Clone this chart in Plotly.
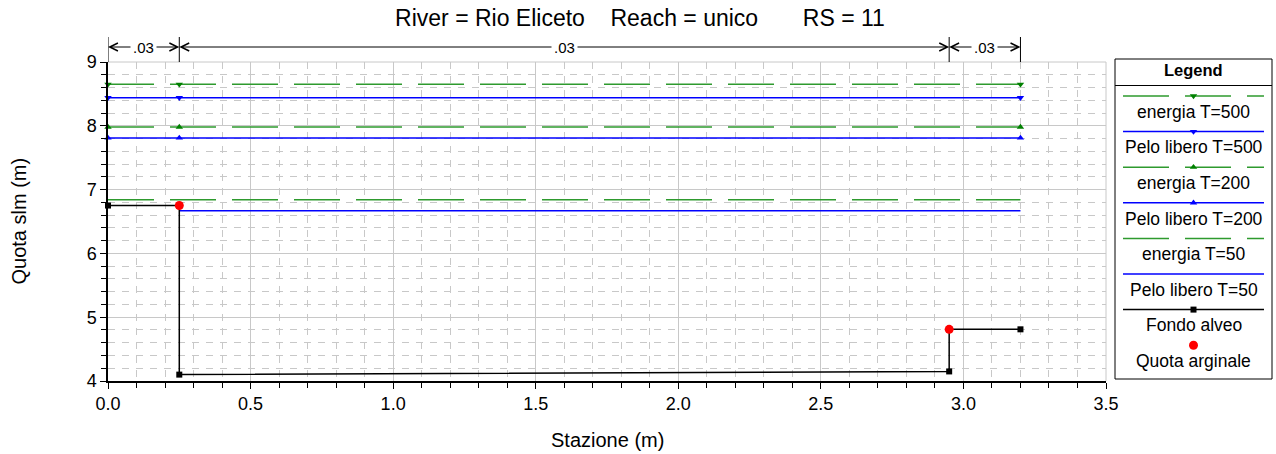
import plotly.graph_objects as go

# ---- cross-section data (RS = 11) ----
fondo_x = [0.0, 0.25, 0.25, 2.95, 2.95, 3.2]
fondo_y = [6.75, 6.75, 4.10, 4.15, 4.81, 4.81]

argine_x = [0.25, 2.95]
argine_y = [6.75, 4.81]

ws_x = [0.0, 0.25, 3.2]          # stations of the water-surface profiles
energia_500 = [8.65, 8.65, 8.65]
pelo_500 = [8.44, 8.44, 8.44]
energia_200 = [7.98, 7.98, 7.98]
pelo_200 = [7.81, 7.81, 7.81]
energia_50_x = [0.0, 3.2]
energia_50 = [6.84, 6.84]
pelo_50_x = [0.25, 3.2]
pelo_50 = [6.67, 6.67]

# Manning's n regions
n_breaks = [0.0, 0.25, 2.95, 3.2]
n_values = [".03", ".03", ".03"]

x_ticks = [0.0, 0.5, 1.0, 1.5, 2.0, 2.5, 3.0, 3.5]
y_ticks = [4, 5, 6, 7, 8, 9]

FONT = "Arial, Liberation Sans, sans-serif"
GREEN_LINE = "#2e9a2e"
GREEN_MARK = "#008000"
BLUE = "#0000ff"
DASH_E = "46px,16px"
GRID = "#c8c8c8"

# style of each series: (name, line colour, dash, marker symbol, marker colour)
styles = {
    "en500": ("energia T=500", GREEN_LINE, DASH_E, "triangle-down", GREEN_MARK),
    "pl500": ("Pelo libero T=500", BLUE, "solid", "triangle-down", BLUE),
    "en200": ("energia T=200", GREEN_LINE, DASH_E, "triangle-up", GREEN_MARK),
    "pl200": ("Pelo libero T=200", BLUE, "solid", "triangle-up", BLUE),
    "en50": ("energia T=50", GREEN_LINE, DASH_E, None, None),
    "pl50": ("Pelo libero T=50", BLUE, "solid", None, None),
    "fondo": ("Fondo alveo", "black", "solid", "square", "black"),
    "arg": ("Quota arginale", None, None, "circle", "red"),
}

series = [
    ("en50", energia_50_x, energia_50),
    ("pl50", pelo_50_x, pelo_50),
    ("en200", ws_x, energia_200),
    ("pl200", ws_x, pelo_200),
    ("en500", ws_x, energia_500),
    ("pl500", ws_x, pelo_500),
    ("fondo", fondo_x, fondo_y),
    ("arg", argine_x, argine_y),
]


def marker_size(key):
    return 9 if key == "arg" else (6 if key == "fondo" else 6.5)


def make_trace(key, xs, ys, xaxis="x", yaxis="y"):
    name, lc, dash, sym, mc = styles[key]
    out = []
    if lc is not None:
        out.append(go.Scatter(x=xs, y=ys, mode="lines", name=name, showlegend=False,
                              line=dict(color=lc, width=1.5, dash=dash),
                              xaxis=xaxis, yaxis=yaxis, hoverinfo="skip"))
    if sym is not None:
        out.append(go.Scatter(x=xs, y=ys, mode="markers", name=name, showlegend=False,
                              marker=dict(symbol=sym, color=mc, size=marker_size(key)),
                              cliponaxis=False,
                              xaxis=xaxis, yaxis=yaxis, hoverinfo="skip"))
    return out


fig = go.Figure()
for key, xs, ys in series:
    for tr in make_trace(key, xs, ys):
        fig.add_trace(tr)

# ---- layout geometry ----
W, H = 1276, 454
ML, MR, MT, MB = 108, 4, 56, 73
PW = W - ML - MR
PH = H - MT - MB
plot_right = 1106
plot_top = 62
x_dom = [0, (plot_right - ML) / PW]
y_dom = [0, (H - MB - plot_top) / PH]


def py2paper(py):
    return (H - MB - py) / PH


# legend panel geometry (pixels)
LG_L, LG_R, LG_T, LG_B = 1115, 1272, 59, 379
lx_dom = [(LG_L - ML) / PW, (LG_R - ML) / PW]
ly_dom = [py2paper(LG_B), py2paper(LG_T)]


def ly(py):
    return (LG_B - py) / (LG_B - LG_T)


legend_order = ["en500", "pl500", "en200", "pl200", "en50", "pl50", "fondo", "arg"]
annotations = []
for i, key in enumerate(legend_order):
    line_py = 96 + 35.6 * i
    text_py = line_py + 15.8
    yy = ly(line_py)
    name, lc, dash, sym, mc = styles[key]
    if lc is not None:
        fig.add_trace(go.Scatter(x=[0.051, 0.949], y=[yy, yy], mode="lines", showlegend=False,
                                 line=dict(color=lc, width=1.5, dash=dash),
                                 xaxis="x2", yaxis="y2", hoverinfo="skip"))
    if sym is not None:
        fig.add_trace(go.Scatter(x=[0.5], y=[yy], mode="markers", showlegend=False,
                                 marker=dict(symbol=sym, color=mc, size=marker_size(key)),
                                 xaxis="x2", yaxis="y2", hoverinfo="skip"))
    annotations.append(dict(x=0.5, y=ly(text_py), xref="x2", yref="y2", text=name,
                            showarrow=False, font=dict(family=FONT, size=17.5, color="black"),
                            xanchor="center", yanchor="middle"))

annotations.append(dict(x=0.5, y=ly(70), xref="x2", yref="y2", text="<b>Legend</b>",
                        showarrow=False, font=dict(family=FONT, size=16.5, color="black"),
                        xanchor="center", yanchor="middle"))

shapes = [
    dict(type="rect", xref="x2 domain", yref="y2 domain", x0=0, x1=1, y0=0, y1=1,
         line=dict(color="black", width=1), fillcolor="rgba(0,0,0,0)", layer="above"),
    dict(type="line", xref="x2 domain", yref="y2", x0=0, x1=1, y0=ly(85.5), y1=ly(85.5),
         line=dict(color="black", width=1)),
    # plot frame edges in grid colour
    dict(type="line", xref="x domain", yref="y domain", x0=0, x1=1, y0=1, y1=1,
         line=dict(color=GRID, width=1), layer="below"),
    dict(type="line", xref="x domain", yref="y domain", x0=1, x1=1, y0=0, y1=1,
         line=dict(color=GRID, width=1), layer="below"),
]

# Manning's n dimension lines above the section
dim_y = py2paper(47)
for xb in n_breaks:
    shapes.append(dict(type="line", xref="x", yref="paper", x0=xb, x1=xb,
                       y0=py2paper(37), y1=py2paper(plot_top),
                       line=dict(color="black", width=1)))
for a, b, nv in zip(n_breaks[:-1], n_breaks[1:], n_values):
    m = (a + b) / 2
    for end in (a, b):
        annotations.append(dict(x=end, y=dim_y, xref="x", yref="paper", text="",
                                showarrow=True, ax=m, ay=0, axref="x", ayref="pixel",
                                arrowhead=5, arrowsize=1.6, arrowwidth=1, arrowcolor="black",
                                standoff=0, startstandoff=0))
    annotations.append(dict(x=m, y=dim_y, xref="x", yref="paper", text=nv, showarrow=False,
                            bgcolor="white", borderpad=2,
                            font=dict(family=FONT, size=15, color="black"),
                            xanchor="center", yanchor="middle"))

# axis titles
annotations.append(dict(x=0.5, y=py2paper(440), xref="x domain", yref="paper",
                        text="Stazione (m)", showarrow=False,
                        font=dict(family=FONT, size=20, color="black"),
                        xanchor="center", yanchor="middle"))
annotations.append(dict(x=(18 - ML) / PW, y=0.5, xref="paper", yref="y domain",
                        text="Quota slm (m)", showarrow=False, textangle=-90,
                        font=dict(family=FONT, size=20, color="black"),
                        xanchor="center", yanchor="middle"))

NB = "\u00a0"
title = f"River = Rio Eliceto{NB*4}Reach = unico{NB*7}RS = 11"

fig.update_layout(
    width=W, height=H,
    margin=dict(l=ML, r=MR, t=MT, b=MB, autoexpand=False),
    paper_bgcolor="white", plot_bgcolor="white",
    title=dict(text=title, x=640 / W, xref="container", xanchor="center",
               y=1 - 18 / H, yref="container", yanchor="middle",
               font=dict(family=FONT, size=23, color="black")),
    font=dict(family=FONT, color="black"),
    showlegend=False,
    xaxis=dict(domain=x_dom, range=[0, 3.5], tickvals=x_ticks, ticktext=[f"{v:.1f}" for v in x_ticks],
               showline=True, linecolor="black", linewidth=1.5, ticks="outside", ticklen=6,
               tickcolor="black", tickwidth=1, tickfont=dict(size=18, family=FONT, color="black"),
               showgrid=True, gridcolor=GRID, gridwidth=1, zeroline=False, automargin=False,
               minor=dict(dtick=0.1, tick0=0, ticks="outside", ticklen=5, tickcolor="black",
                          showgrid=True, gridcolor=GRID, griddash="7px,7px", gridwidth=1),
               anchor="y", fixedrange=True),
    yaxis=dict(domain=y_dom, range=[4, 9], tickvals=y_ticks,
               showline=True, linecolor="black", linewidth=1.5, ticks="outside", ticklen=6,
               tickcolor="black", tickwidth=1, tickfont=dict(size=18, family=FONT, color="black"),
               showgrid=True, gridcolor=GRID, gridwidth=1, zeroline=False, automargin=False,
               minor=dict(dtick=0.2, tick0=4, ticks="outside", ticklen=5, tickcolor="black",
                          showgrid=True, gridcolor=GRID, griddash="7px,7px", gridwidth=1),
               anchor="x", fixedrange=True),
    xaxis2=dict(domain=lx_dom, range=[0, 1], visible=False, anchor="y2", fixedrange=True,
                automargin=False),
    yaxis2=dict(domain=ly_dom, range=[0, 1], visible=False, anchor="x2", fixedrange=True,
                automargin=False),
    shapes=shapes,
    annotations=annotations,
)

fig.write_html("out.html")
